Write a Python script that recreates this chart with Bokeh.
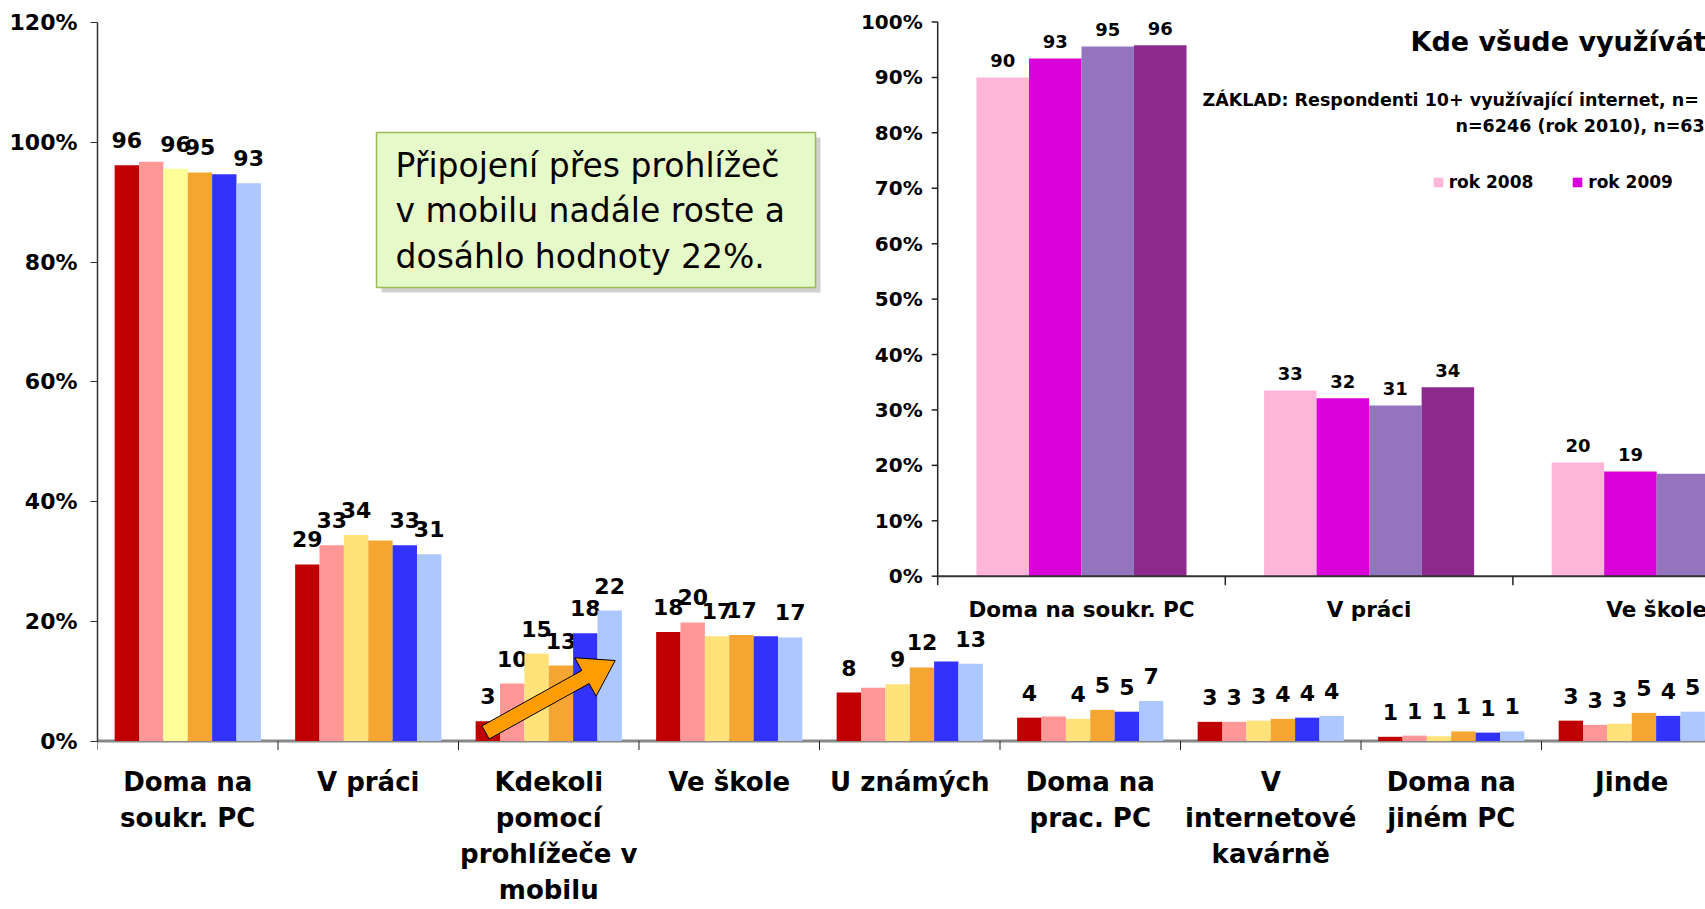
import numpy as np
from bokeh.plotting import figure
from bokeh.models import (Range1d, LinearAxis, FixedTicker, PrintfTickFormatter,
                          ColumnDataSource, Legend, LegendItem)
from bokeh.core.properties import value
from bokeh.embed import file_html
from bokeh.resources import INLINE

# ---------------- data: main chart ----------------
categories = ["Doma na\nsoukr. PC", "V práci", "Kdekoli\npomocí\nprohlížeče v\nmobilu",
              "Ve škole", "U známých", "Doma na\nprac. PC", "V\ninternetové\nkavárně",
              "Doma na\njiném PC", "Jinde"]
series_names = ["řada 1", "řada 2", "řada 3", "řada 4", "řada 5", "řada 6"]
s1 = [96.2, 29.5, 3.3, 18.2, 8.1, 3.9, 3.2, 0.7, 3.4]
s2 = [96.8, 32.7, 9.6, 19.8, 8.9, 4.1, 3.2, 0.9, 2.7]
s3 = [95.6, 34.4, 14.6, 17.5, 9.5, 3.7, 3.4, 0.8, 2.9]
s4 = [95.0, 33.5, 12.6, 17.7, 12.3, 5.2, 3.7, 1.6, 4.7]
s5 = [94.7, 32.7, 18.0, 17.5, 13.3, 4.9, 3.9, 1.4, 4.2]
s6 = [93.2, 31.2, 21.8, 17.3, 12.9, 6.7, 4.2, 1.6, 4.9]
l1 = ["96", "29", "3", "18", "8", "4", "3", "1", "3"]
l2 = ["", "33", "10", "20", "", "", "3", "1", "3"]
l3 = ["96", "34", "15", "17", "9", "4", "3", "1", "3"]
l4 = ["95", "", "13", "17", "12", "5", "4", "1", "5"]
l5 = ["", "33", "18", "", "", "5", "4", "1", "4"]
l6 = ["93", "31", "22", "17", "13", "7", "4", "1", "5"]
main_yticks = [0, 20, 40, 60, 80, 100, 120]

# ---------------- data: inset chart ----------------
inset_categories = ["Doma na soukr. PC", "V práci", "Ve škole"]
inset_years = ["rok 2008", "rok 2009", "rok 2010", "rok 2011"]
y2008 = [90.0, 33.5, 20.5]
y2009 = [93.4, 32.1, 18.9]
y2010 = [95.6, 30.8, 18.5]
y2011 = [95.8, 34.1, float("nan")]
lab2008 = ["90", "33", "20"]
lab2009 = ["93", "32", "19"]
lab2010 = ["95", "31", ""]
lab2011 = ["96", "34", ""]
inset_yticks = [0, 10, 20, 30, 40, 50, 60, 70, 80, 90, 100]

title_text = "Kde všude  využíváte internet?"
base_line1 = "ZÁKLAD: Respondenti  10+ využívající internet,  n="
base_line2 = "n=6246 (rok 2010), n=63"
note_text = "Připojení přes prohlížeč\nv mobilu nadále roste a\ndosáhlo hodnoty 22%."

# ---------------- styles / layout ----------------
main_colors = ["#C00000", "#FF9797", "#FFE27A", "#F5A532", "#3232F8", "#ADC8FF"]
first_cat_color3 = "#FFFF99"
inset_colors = ["#FFB5DA", "#DA00DA", "#9474BC", "#8E2A8E"]
FONT = "DejaVu Sans"

FIG_W, FIG_H = 1705, 909
LEFT = 97
FRAME_W, FRAME_H = FIG_W - LEFT, FIG_H
ZERO_Y = 740.5                       # page y of main 0 %
PCT_PX = (ZERO_Y - 22.3) / 120       # pixels per percent (main)
CAT_PX = 180.5                       # pixels per main category
Y_END = ZERO_Y / PCT_PX
Y_START = -(FRAME_H - ZERO_Y) / PCT_PX
X_END = FRAME_W / CAT_PX
BW = 0.135                           # main bar width (category units)

I_ORIGIN_X, I_ORIGIN_Y = 937.2 - LEFT, 575.7   # inset origin inside frame (px)
ICAT_PX, IPCT_PX = 287.6, 5.542
IBW = 0.1826


def px2x(px):
    return (px - LEFT) / CAT_PX


def py2y(py):
    return (ZERO_Y - py) / PCT_PX


p = figure(width=FIG_W, height=FIG_H, x_range=Range1d(0, X_END), y_range=Range1d(Y_START, Y_END),
           output_backend="svg", toolbar_location=None, x_axis_type=None, y_axis_type=None,
           min_border_left=LEFT, min_border_right=0, min_border_top=0, min_border_bottom=0)
p.outline_line_color = None
p.grid.visible = False
p.background_fill_color = "white"
p.border_fill_color = "white"

p.extra_x_ranges = {"ix": Range1d(-I_ORIGIN_X / ICAT_PX, (FRAME_W - I_ORIGIN_X) / ICAT_PX)}
p.extra_y_ranges = {"iy": Range1d(-(FRAME_H - I_ORIGIN_Y) / IPCT_PX, I_ORIGIN_Y / IPCT_PX)}

# ---- main y axis
yax = LinearAxis(ticker=FixedTicker(ticks=main_yticks, minor_ticks=[]),
                 formatter=PrintfTickFormatter(format="%d%%"), bounds=(0, 120))
yax.axis_line_color = "#333333"
yax.axis_line_width = 1.5
yax.major_tick_line_color = "#333333"
yax.major_tick_out = 7
yax.major_tick_in = 0
yax.minor_tick_line_color = None
yax.major_label_standoff = 13
yax.major_label_text_font = FONT
yax.major_label_text_font_style = "bold"
yax.major_label_text_font_size = "22px"
yax.major_label_text_color = "black"
p.add_layout(yax, "left")

# ---- main category axis (line, boundary ticks, labels)
ncat = len(categories)
centers = [i + 0.5 for i in range(ncat)]
p.segment(x0=[0], y0=[0], x1=[ncat], y1=[0], line_color="#888888", line_width=3)
p.ray(x=list(range(ncat + 1)), y=[0] * (ncat + 1), length=9, length_units="screen",
      angle=-np.pi / 2, line_color="#222222", line_width=1)
p.text(x=centers, y=[0] * ncat, text=categories, y_offset=26, text_align="center",
       text_baseline="top", text_font=value(FONT), text_font_style="bold",
       text_font_size="26px", text_line_height=1.2, text_color="black")

# ---- main bars + labels
main_series = [s1, s2, s3, s4, s5, s6]
main_labels = [l1, l2, l3, l4, l5, l6]
for j, (vals, labs) in enumerate(zip(main_series, main_labels)):
    xs = [i + 0.5 + (j - 2.5) * BW for i in range(ncat)]
    cols = [main_colors[j]] * ncat
    if j == 2:
        cols[0] = first_cat_color3
    src = ColumnDataSource(dict(x=xs, top=vals, lab=labs, color=cols))
    p.vbar(x="x", top="top", bottom=0, width=BW, source=src, fill_color="color",
           line_color=None, name=series_names[j])
    p.text(x="x", y="top", text="lab", source=src, text_align="center",
           text_baseline="alphabetic", y_offset=-25, text_font=value(FONT),
           text_font_style="bold", text_font_size="22px", text_color="black")

# ---- note box (shadow, box, text)
bl, br, bt, bb = px2x(376), px2x(815), py2y(132), py2y(287)
sdx, sdy = 5 / CAT_PX, 5 / PCT_PX
p.quad(left=[bl + sdx], right=[br + sdx], top=[bt - sdy], bottom=[bb - sdy],
       fill_color="#9a9a9a", fill_alpha=0.45, line_color=None)
p.quad(left=[bl], right=[br], top=[bt], bottom=[bb],
       fill_color="#E6F9C8", line_color="#9BBB59", line_width=1.5)
p.text(x=[px2x(395)], y=[py2y(145)], text=[note_text], text_align="left", text_baseline="top",
       text_font=value(FONT), text_font_size="33px", text_line_height=1.17, text_color="black")


# ---- arrow (block arrow across the mobile-browser bars)
def block_arrow(x0, y0, x1, y1, shaft=7.5, head_w=22.0, head_l=34.0):
    p0 = np.array([x0 * CAT_PX, y0 * PCT_PX])
    p1 = np.array([x1 * CAT_PX, y1 * PCT_PX])
    u = (p1 - p0) / np.linalg.norm(p1 - p0)
    n = np.array([-u[1], u[0]])
    base = p1 - u * head_l
    pts = [p0 + n * shaft, base + n * shaft, base + n * head_w, p1,
           base - n * head_w, base - n * shaft, p0 - n * shaft]
    return [q[0] / CAT_PX for q in pts], [q[1] / PCT_PX for q in pts]


ax_, ay_ = block_arrow(px2x(485), py2y(732), px2x(614.7), py2y(660))
p.patch(ax_, ay_, fill_color="#FF9C00", line_color="black", line_width=1)

# ---- inset chart
IR = dict(x_range_name="ix", y_range_name="iy")
inset_series = [y2008, y2009, y2010, y2011]
inset_labels = [lab2008, lab2009, lab2010, lab2011]
inset_renderers = []
for j, (vals, labs) in enumerate(zip(inset_series, inset_labels)):
    xs = [i + 0.5 + (j - 1.5) * IBW for i in range(len(inset_categories))]
    src = ColumnDataSource(dict(x=xs, top=vals, lab=labs))
    r = p.vbar(x="x", top="top", bottom=0, width=IBW, source=src,
               fill_color=inset_colors[j], line_color=None, **IR)
    inset_renderers.append(r)
    p.text(x="x", y="top", text="lab", source=src, text_align="center",
           text_baseline="alphabetic", y_offset=-17, text_font=value(FONT),
           text_font_style="bold", text_font_size="18px", text_color="black", **IR)

# inset axes
p.segment(x0=[0], y0=[0], x1=[0], y1=[inset_yticks[-1]], line_color="#222222", line_width=1.5, **IR)
p.ray(x=[0] * len(inset_yticks), y=inset_yticks, length=6, length_units="screen",
      angle=np.pi, line_color="#222222", line_width=1.5, **IR)
p.text(x=[0] * len(inset_yticks), y=inset_yticks, text=[f"{t}%" for t in inset_yticks],
       x_offset=-15, text_align="right", text_baseline="middle", text_font=value(FONT),
       text_font_style="bold", text_font_size="20px", text_color="black", **IR)
nI = len(inset_categories) + 1
p.segment(x0=[0], y0=[0], x1=[nI], y1=[0], line_color="#333333", line_width=2, **IR)
p.ray(x=list(range(nI)), y=[0] * nI, length=9, length_units="screen",
      angle=-np.pi / 2, line_color="#222222", line_width=1.5, **IR)
p.text(x=[i + 0.5 for i in range(len(inset_categories))], y=[0] * len(inset_categories),
       text=inset_categories, y_offset=33, text_align="center", text_baseline="middle",
       text_font=value(FONT), text_font_style="bold", text_font_size="21.5px",
       text_color="black", **IR)

# inset title / base text
p.text(x=[px2x(1410)], y=[py2y(40.5)], text=[title_text], text_align="left",
       text_baseline="alphabetic", text_font=value(FONT), text_font_style="bold",
       text_font_size="27px", text_color="black")
p.text(x=[px2x(1202), px2x(1455)], y=[py2y(99.5), py2y(125)], text=[base_line1, base_line2],
       text_align="left", text_baseline="alphabetic", text_font=value(FONT),
       text_font_style="bold", text_font_size="17.5px", text_color="black")

legend = Legend(items=[LegendItem(label=nm, renderers=[r]) for nm, r in zip(inset_years, inset_renderers)],
                location=(1431.7 - LEFT, FIG_H - 192),
                orientation="horizontal", glyph_width=12, glyph_height=12, label_standoff=5,
                spacing=38, padding=0, margin=0, border_line_color=None,
                background_fill_alpha=0, label_text_font=FONT, label_text_font_style="bold",
                label_text_font_size="17px", label_text_color="black")
p.add_layout(legend)

open("out.html", "w").write(file_html(p, INLINE))
